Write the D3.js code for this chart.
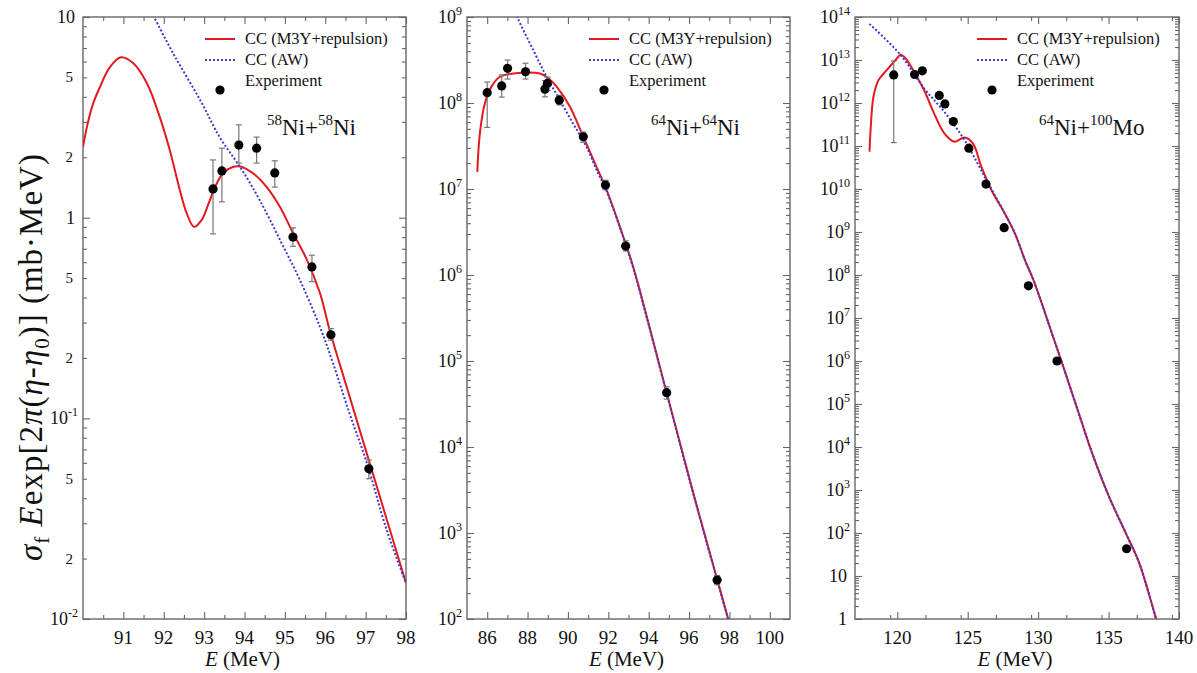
<!DOCTYPE html>
<html><head><meta charset="utf-8">
<script src="https://cdn.jsdelivr.net/npm/d3@7"></script>
<style>
body{margin:0;background:#fff}
svg{display:block}
</style>
</head><body><svg id="c" width="1197" height="673"></svg>
<script>
// ---------- Panel 1: 58Ni+58Ni ----------
const p1E_m3y = [90.0, 90.1, 90.25, 90.42, 90.67, 90.94, 91.24, 91.58, 91.9, 92.15, 92.4, 92.57, 92.75, 92.94, 93.1, 93.27, 93.47, 93.71, 93.89, 94.2, 94.55, 94.88, 95.2, 95.54, 95.87, 96.11, 96.53, 97.03, 97.52, 98.0];
const p1V_m3y = [2.25, 2.85, 3.7, 4.48, 5.64, 6.3, 5.9, 4.69, 3.18, 2.17, 1.37, 1.05, 0.90, 0.975, 1.16, 1.42, 1.67, 1.79, 1.80, 1.67, 1.42, 1.13, 0.84, 0.62, 0.42, 0.275, 0.1436, 0.0667, 0.0315, 0.0151];
const p1E_aw = [91.6, 91.76, 92.23, 92.9, 93.39, 93.89, 94.38, 94.88, 95.37, 95.87, 96.19, 96.6, 97.03, 97.52, 98.0];
const p1V_aw = [11.5, 10, 6.6, 3.86, 2.51, 1.79, 1.22, 0.774, 0.49, 0.285, 0.189, 0.106, 0.060, 0.0278, 0.0151];
const p1E_exp = [93.22, 93.44, 93.86, 94.30, 94.75, 95.20, 95.67, 96.14, 97.08];
const p1V_exp = [1.39, 1.71, 2.30, 2.22, 1.67, 0.80, 0.568, 0.261, 0.056];
const p1Lo_exp = [0.83, 1.20, 1.87, 1.87, 1.42, 0.72, 0.48, 0.245, 0.050];
const p1Hi_exp = [1.94, 2.22, 2.90, 2.52, 1.92, 0.89, 0.65, 0.28, 0.062];
const p1XDomain = [90, 98];
const p1YDomain = [0.01, 10];
const p1XTicks = [91, 92, 93, 94, 95, 96, 97, 98];
const p1XMinorStep = 0.5;
const p1YTicks = [0.01, 0.02, 0.05, 0.1, 0.2, 0.5, 1, 2, 5, 10];
const p1YLabels = ["10^-2", "2", "5", "10^-1", "2", "5", "1", "2", "5", "10"];
const p1Reaction = ["58", "Ni+", "58", "Ni"];

// ---------- Panel 2: 64Ni+64Ni ----------
const p2E_m3y = [85.51, 85.64, 85.89, 86.22, 86.63, 87.29, 88.61, 89.03, 89.44, 90.1, 90.76, 91.42, 91.91, 92.57, 93.23, 93.98, 94.89, 96.26, 97.94, 98.2];
const p2V_m3y = [1.58e7, 4.5e7, 1e8, 1.56e8, 2.02e8, 2.2e8, 2.2e8, 1.94e8, 1.55e8, 9.06e7, 4.05e7, 1.8e7, 9.8e6, 3.65e6, 1.25e6, 2.8e5, 4.28e4, 2.63e3, 100, 60];
const p2E_aw = [87.3, 87.48, 88.28, 88.94, 89.6, 90.26, 90.92, 91.42, 91.91, 92.57, 93.23, 93.98, 94.89, 96.26, 97.94, 98.2];
const p2V_aw = [1.25e9, 1e9, 4.13e8, 2.02e8, 1.08e8, 5.75e7, 3.1e7, 1.66e7, 9.5e6, 3.6e6, 1.22e6, 2.75e5, 4.2e4, 2.6e3, 98, 59];
const p2E_exp = [86.0, 86.72, 87.01, 87.9, 88.86, 88.98, 89.57, 90.76, 91.86, 92.86, 94.89, 97.39];
const p2V_exp = [1.32e8, 1.58e8, 2.53e8, 2.31e8, 1.45e8, 1.69e8, 1.08e8, 4.05e7, 1.11e7, 2.17e6, 4.28e4, 284];
const p2Lo_exp = [5.2e7, 1.17e8, 1.9e8, 1.9e8, 1.18e8, 1.4e8, 9.5e7, 3.5e7, 9.8e6, 1.9e6, 3.6e4, 250];
const p2Hi_exp = [1.75e8, 2.12e8, 3.16e8, 2.9e8, 1.82e8, 2.0e8, 1.23e8, 4.6e7, 1.26e7, 2.5e6, 5.0e4, 320];
const p2XDomain = [85, 101];
const p2YDomain = [1e2, 1e9];
const p2XTicks = [86, 88, 90, 92, 94, 96, 98, 100];
const p2XMinorStep = 1;
const p2YTicks = [1e2, 1e3, 1e4, 1e5, 1e6, 1e7, 1e8, 1e9];
const p2YLabels = ["10^2", "10^3", "10^4", "10^5", "10^6", "10^7", "10^8", "10^9"];
const p2Reaction = ["64", "Ni+", "64", "Ni"];

// ---------- Panel 3: 64Ni+100Mo ----------
const p3E_m3y = [118.03, 118.12, 118.31, 118.67, 119.27, 119.99, 120.23, 120.58, 121.18, 121.9, 122.61, 123.33, 124.05, 124.77, 125.37, 125.97, 126.68, 127.63, 128.35, 129.07, 129.67, 130.4, 131.0, 131.7, 132.89, 133.84, 135.04, 136.23, 137.19, 138.38, 138.6];
const p3V_m3y = [7.4e10, 2.8e11, 1.4e12, 3.4e12, 5.9e12, 1.1e13, 1.32e13, 1.1e13, 5.4e12, 2.0e12, 5.75e11, 2.0e11, 1.26e11, 1.58e11, 1.15e11, 3.3e10, 9.5e9, 2.7e9, 9.3e8, 2.2e8, 7.6e7, 1.6e7, 4.2e6, 8.9e5, 6.0e4, 7.1e3, 690, 98, 19.5, 1.0, 0.6];
const p3E_aw = [118.03, 120.23, 121.9, 123.33, 124.77, 126.34, 127.63, 128.35, 129.07, 129.67, 130.4, 131.0, 131.7, 132.89, 133.84, 135.04, 136.23, 137.19, 138.38, 138.6];
const p3V_aw = [6.9e13, 1.32e13, 2.2e12, 6.3e11, 1.38e11, 1.6e10, 2.7e9, 9.3e8, 2.2e8, 7.6e7, 1.6e7, 4.2e6, 8.9e5, 6.0e4, 7.1e3, 690, 98, 19.5, 1.0, 0.6];
const p3E_exp = [119.75, 121.23, 121.78, 122.98, 123.38, 123.98, 125.08, 126.3, 127.59, 129.31, 131.34, 136.28];
const p3V_exp = [4.5e12, 4.6e12, 5.6e12, 1.5e12, 9.5e11, 3.7e11, 8.9e10, 1.3e10, 1.26e9, 5.6e7, 1.0e6, 43];
const p3Lo_exp = [1.2e11, null, null, null, null, null, null, null, null, null, null, null];
const p3Hi_exp = [9.5e12, null, null, null, null, null, null, null, null, null, null, null];
const p3XDomain = [117, 140];
const p3YDomain = [1, 1e14];
const p3XTicks = [120, 125, 130, 135, 140];
const p3XMinorStep = 2.5;
const p3YTicks = [1, 10, 1e2, 1e3, 1e4, 1e5, 1e6, 1e7, 1e8, 1e9, 1e10, 1e11, 1e12, 1e13, 1e14];
const p3YLabels = ["1", "10", "10^2", "10^3", "10^4", "10^5", "10^6", "10^7", "10^8", "10^9", "10^10", "10^11", "10^12", "10^13", "10^14"];
const p3Reaction = ["64", "Ni+", "100", "Mo"];

const seriesNames = ["CC (M3Y+repulsion)", "CC (AW)", "Experiment"];
const xAxisTitle = ["E", " (MeV)"];

// ---------- build ----------
const zip = (a, b) => a.map((v, i) => [v, b[i]]);
const panels = [
  {xDom: p1XDomain, yDom: p1YDomain, m3y: zip(p1E_m3y, p1V_m3y), aw: zip(p1E_aw, p1V_aw),
   exp: p1E_exp.map((e, i) => ({e, v: p1V_exp[i], lo: p1Lo_exp[i], hi: p1Hi_exp[i]})),
   xT: p1XTicks, xStep: p1XMinorStep, yT: p1YTicks, yL: p1YLabels, reac: p1Reaction},
  {xDom: p2XDomain, yDom: p2YDomain, m3y: zip(p2E_m3y, p2V_m3y), aw: zip(p2E_aw, p2V_aw),
   exp: p2E_exp.map((e, i) => ({e, v: p2V_exp[i], lo: p2Lo_exp[i], hi: p2Hi_exp[i]})),
   xT: p2XTicks, xStep: p2XMinorStep, yT: p2YTicks, yL: p2YLabels, reac: p2Reaction},
  {xDom: p3XDomain, yDom: p3YDomain, m3y: zip(p3E_m3y, p3V_m3y), aw: zip(p3E_aw, p3V_aw),
   exp: p3E_exp.map((e, i) => ({e, v: p3V_exp[i], lo: p3Lo_exp[i], hi: p3Hi_exp[i]})),
   xT: p3XTicks, xStep: p3XMinorStep, yT: p3YTicks, yL: p3YLabels, reac: p3Reaction}
];

const svg = d3.select('#c');
const TOP = 17, BOTTOM = 619;
const boxes = [[83, 406], [467, 790], [855, 1179]];
const RED = '#e3191f', BLUE = '#3a3ad0', AXC = '#666';

panels.forEach((p, i) => {
  const [x0, x1] = boxes[i];
  const x = d3.scaleLinear().domain(p.xDom).range([x0, x1]);
  const y = d3.scaleLog().domain(p.yDom).range([BOTTOM, TOP]);
  const g = svg.append('g');

  const cid = 'clip' + i;
  svg.append('clipPath').attr('id', cid).append('rect')
    .attr('x', x0).attr('y', TOP).attr('width', x1 - x0).attr('height', BOTTOM - TOP);

  const xMinor = d3.range(p.xDom[0], p.xDom[1] + 1e-9, p.xStep).filter(v => !p.xT.some(t => Math.abs(t - v) < 1e-9) && v > p.xDom[0] && v < p.xDom[1]);
  const lo = Math.round(Math.log10(p.yDom[0])), hi = Math.round(Math.log10(p.yDom[1]));
  const yMinor = [];
  for (let d = lo; d < hi; d++) for (let k = 2; k <= 9; k++) yMinor.push(k * Math.pow(10, d));
  const yMajor = d3.range(lo, hi + 1).map(d => Math.pow(10, d));

  const styleAxis = sel => { sel.select('.domain').remove(); sel.selectAll('line').attr('stroke', AXC).attr('stroke-width', 1.1); sel.selectAll('text').remove(); };
  const mk = (axisFn, scale, vals, size, tx, ty) => {
    g.append('g').attr('transform', `translate(${tx},${ty})`)
      .call(axisFn(scale).tickValues(vals).tickSizeInner(-size).tickSizeOuter(0).tickFormat(''))
      .call(styleAxis);
  };
  mk(d3.axisBottom, x, p.xT, 7, 0, BOTTOM);
  mk(d3.axisBottom, x, xMinor, 4, 0, BOTTOM);
  mk(d3.axisTop, x, p.xT, 7, 0, TOP);
  mk(d3.axisTop, x, xMinor, 4, 0, TOP);
  mk(d3.axisLeft, y, yMajor, 7, x0, 0);
  mk(d3.axisLeft, y, yMinor, 4, x0, 0);
  mk(d3.axisRight, y, yMajor, 7, x1, 0);
  mk(d3.axisRight, y, yMinor, 4, x1, 0);

  g.append('rect').attr('x', x0).attr('y', TOP).attr('width', x1 - x0).attr('height', BOTTOM - TOP)
    .attr('fill', 'none').attr('stroke', AXC).attr('stroke-width', 1.4);

  // x tick labels
  g.selectAll('.xl').data(p.xT).enter().append('text')
    .attr('x', d => x(d)).attr('y', 644).attr('text-anchor', 'middle')
    .attr('font-size', 19).text(d => d);

  // y tick labels
  p.yT.forEach((v, j) => {
    const lab = p.yL[j];
    const t = g.append('text').attr('text-anchor', 'end').attr('y', y(v) + 6);
    if (lab.includes('^')) {
      const [b, s] = lab.split('^');
      t.attr('x', x0 - 5).attr('font-size', 18);
      t.append('tspan').text(b);
      t.append('tspan').attr('font-size', 12).attr('dy', -8).text(s);
    } else if (i === 0 && (lab === '2' || lab === '5')) {
      t.attr('x', x0 - 10).attr('font-size', 15).attr('y', y(v) + 5).text(lab);
    } else {
      t.attr('x', x0 - 8).attr('font-size', 18).text(lab);
    }
  });

  // x axis title
  const xt = g.append('text').attr('x', (x0 + x1) / 2 - 2).attr('y', 666).attr('text-anchor', 'middle').attr('font-size', 21);
  xt.append('tspan').attr('font-style', 'italic').text(xAxisTitle[0]);
  xt.append('tspan').text(xAxisTitle[1]);

  // curves
  const line = d3.line().x(d => x(d[0])).y(d => y(d[1])).curve(d3.curveCatmullRom.alpha(0.5));
  const cg = g.append('g').attr('clip-path', `url(#${cid})`);
  cg.append('path').datum(p.m3y).attr('d', line).attr('fill', 'none').attr('stroke', RED).attr('stroke-width', 2);
  cg.append('path').datum(p.aw).attr('d', line).attr('fill', 'none').attr('stroke', BLUE).attr('stroke-width', 2).attr('stroke-dasharray', '2,2');

  // error bars
  const eb = p.exp.filter(d => d.lo != null);
  cg.selectAll('.eb').data(eb).enter().append('line')
    .attr('x1', d => x(d.e)).attr('x2', d => x(d.e)).attr('y1', d => y(d.lo)).attr('y2', d => y(d.hi))
    .attr('stroke', '#777').attr('stroke-width', 1.2);
  ['lo', 'hi'].forEach(k => {
    cg.selectAll('.cap' + k).data(eb).enter().append('line')
      .attr('x1', d => x(d.e) - 3).attr('x2', d => x(d.e) + 3).attr('y1', d => y(d[k])).attr('y2', d => y(d[k]))
      .attr('stroke', '#777').attr('stroke-width', 1.2);
  });
  cg.selectAll('.pt').data(p.exp).enter().append('circle')
    .attr('cx', d => x(d.e)).attr('cy', d => y(d.v)).attr('r', 4.6).attr('fill', '#000');

  // legend
  const lx = x0 + 122;
  g.append('line').attr('x1', lx).attr('x2', lx + 30).attr('y1', 39).attr('y2', 39).attr('stroke', RED).attr('stroke-width', 2);
  g.append('line').attr('x1', lx).attr('x2', lx + 30).attr('y1', 60).attr('y2', 60).attr('stroke', BLUE).attr('stroke-width', 2).attr('stroke-dasharray', '2,2');
  g.append('circle').attr('cx', lx + 15).attr('cy', 90).attr('r', 4.6).attr('fill', '#000');
  seriesNames.forEach((s, k) => {
    g.append('text').attr('x', lx + 40).attr('y', 44 + 21 * k).attr('font-size', 16.5).text(s);
  });

  // reaction label
  const rt = g.append('text').attr('x', x0 + 184).attr('y', 135).attr('font-size', 23);
  rt.append('tspan').attr('font-size', 15).attr('dy', -10).text(p.reac[0]);
  rt.append('tspan').attr('dy', 10).text(p.reac[1]);
  rt.append('tspan').attr('font-size', 15).attr('dy', -10).text(p.reac[2]);
  rt.append('tspan').attr('dy', 10).text(p.reac[3]);
});

// y axis title (rotated)
const yt = svg.append('text').attr('transform', 'translate(42,357) rotate(-90)').attr('text-anchor', 'middle')
  .attr('font-size', 33).attr('letter-spacing', 1);
const seg = (t, o = {}) => {
  const s = yt.append('tspan').text(t);
  if (o.i) s.attr('font-style', 'italic');
  if (o.fs) s.attr('font-size', o.fs);
  if (o.dy) s.attr('dy', o.dy);
  return s;
};
seg('σ', {i: true});
seg('f', {fs: 21, dy: 7});
seg(' ', {dy: -7});
seg('E', {i: true});
seg('exp[2');
seg('π', {i: true});
seg('(');
seg('η', {i: true});
seg('-');
seg('η', {i: true});
seg('0', {fs: 21, dy: 7});
seg(')] (mb·MeV)', {dy: -7});

svg.selectAll('text').style('font-family', "'Liberation Serif', 'Times New Roman', serif").style('fill', '#111');
</script></body></html>
